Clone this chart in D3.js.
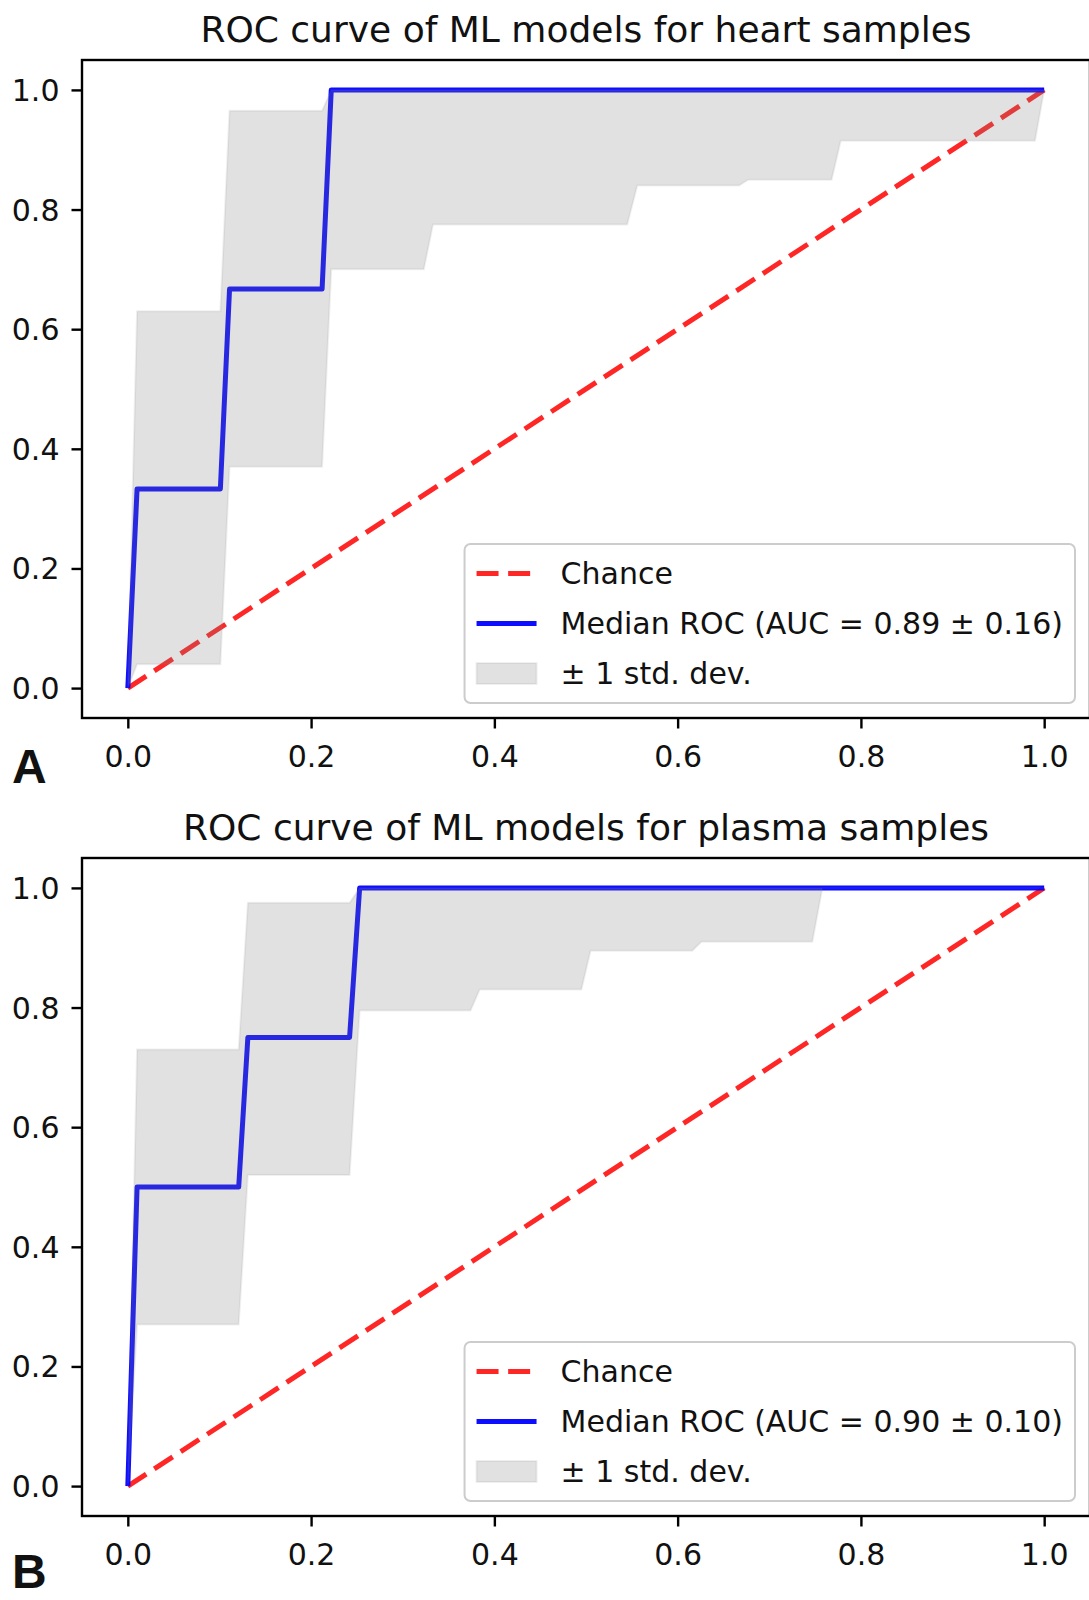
<!DOCTYPE html>
<html>
<head>
<meta charset="utf-8">
<script src="https://cdn.jsdelivr.net/npm/d3@7"></script>
<style>
  body { margin: 0; background: #fff; }
  svg { display: block; }
  text { font-family: "DejaVu Sans", sans-serif; fill: #111; }
</style>
</head>
<body>
<div id="chart"></div>
<script>
// ---- data ----
const xTicks = [0, 0.2, 0.4, 0.6, 0.8, 1.0];
const yTicks = [0, 0.2, 0.4, 0.6, 0.8, 1.0];

// heart samples
const heartRocFpr = [0, 0.0101, 0.101, 0.111, 0.212, 0.222, 1.0];
const heartRocTpr = [0, 0.333, 0.333, 0.667, 0.667, 1.0, 1.0];
const heartBandFpr = [0, 0.0101, 0.101, 0.111, 0.212, 0.222, 0.323, 0.333, 0.545, 0.556, 0.667, 0.677, 0.768, 0.778, 0.99, 1.0];
const heartBandUpper = [0, 0.63, 0.63, 0.965, 0.965, 1, 1, 1, 1, 1, 1, 1, 1, 1, 1, 1];
const heartBandLower = [0, 0.04, 0.04, 0.37, 0.37, 0.70, 0.70, 0.775, 0.775, 0.84, 0.84, 0.85, 0.85, 0.915, 0.915, 1.0];

// plasma samples
const plasmaRocFpr = [0, 0.0101, 0.121, 0.131, 0.242, 0.253, 1.0];
const plasmaRocTpr = [0, 0.5, 0.5, 0.75, 0.75, 1.0, 1.0];
const plasmaBandFpr = [0, 0.0101, 0.121, 0.131, 0.242, 0.253, 0.374, 0.384, 0.495, 0.505, 0.616, 0.626, 0.747, 0.758, 1.0];
const plasmaBandUpper = [0, 0.73, 0.73, 0.975, 0.975, 1, 1, 1, 1, 1, 1, 1, 1, 1, 1];
const plasmaBandLower = [0, 0.27, 0.27, 0.52, 0.52, 0.795, 0.795, 0.83, 0.83, 0.895, 0.895, 0.91, 0.91, 1.0, 1.0];

const panels = [
  {title: "ROC curve of ML models for heart samples", letter: "A",
   rocFpr: heartRocFpr, rocTpr: heartRocTpr, bandFpr: heartBandFpr, bandLo: heartBandLower, bandHi: heartBandUpper,
   auc: "Median ROC (AUC = 0.89 ± 0.16)"},
  {title: "ROC curve of ML models for plasma samples", letter: "B",
   rocFpr: plasmaRocFpr, rocTpr: plasmaRocTpr, bandFpr: plasmaBandFpr, bandLo: plasmaBandLower, bandHi: plasmaBandUpper,
   auc: "Median ROC (AUC = 0.90 ± 0.10)"}
];

//layout
const W = 1089, H = 1600;
const axLeft = 82, axRight = 1090, axH = 658;
const axTops = [60, 858];
const letterY = [783, 1588];

const svg = d3.select("#chart").append("svg")
  .attr("width", W).attr("height", H);

panels.forEach((p, i) => drawPanel(p, axTops[i], letterY[i]));

function drawPanel(p, top, letterBase) {
  const bottom = top + axH;
  const x = d3.scaleLinear().domain([-0.05, 1.05]).range([axLeft, axRight]);
  const y = d3.scaleLinear().domain([-0.05, 1.05]).range([bottom, top]);
  const g = svg.append("g");

  // chance line
  g.append("line")
    .attr("x1", x(0)).attr("y1", y(0))
    .attr("x2", x(1)).attr("y2", y(1))
    .attr("stroke", "#ff0000").attr("stroke-opacity", 0.85)
    .attr("stroke-width", 5).attr("stroke-dasharray", "22,9.6");

  // median roc
  const roc = p.rocFpr.map((f, k) => [f, p.rocTpr[k]]);
  g.append("path")
    .datum(roc)
    .attr("d", d3.line().x(d => x(d[0])).y(d => y(d[1])))
    .attr("fill", "none")
    .attr("stroke", "#0000ff").attr("stroke-opacity", 0.95)
    .attr("stroke-width", 5).attr("stroke-linejoin", "round");

  // std band
  const band = p.bandFpr.map((f, k) => ({f: f, lo: p.bandLo[k], hi: p.bandHi[k]}));
  g.append("path")
    .datum(band)
    .attr("d", d3.area().x(d => x(d.f)).y0(d => y(d.lo)).y1(d => y(d.hi)))
    .attr("fill", "#808080").attr("fill-opacity", 0.24)
    .attr("stroke", "#808080").attr("stroke-opacity", 0.12).attr("stroke-width", 2);

  // axes
  const xAxis = g.append("g").attr("transform", "translate(0," + bottom + ")")
    .call(d3.axisBottom(x).tickValues(xTicks).tickFormat(d3.format(".1f")).tickSize(10.5));
  xAxis.selectAll("text").attr("y", 21).attr("dy", "0.93em");
  const yAxis = g.append("g").attr("transform", "translate(" + axLeft + ",0)")
    .call(d3.axisLeft(y).tickValues(yTicks).tickFormat(d3.format(".1f")).tickSize(10.5).tickPadding(12));
  yAxis.selectAll("text").attr("dy", "0.35em");
  [xAxis, yAxis].forEach(a => {
    a.select(".domain").remove();
    a.selectAll("line").attr("stroke", "#000").attr("stroke-width", 2.4);
    a.selectAll("text").style("font-family", "DejaVu Sans").style("font-size", "30px").attr("fill", "#111");
  });

  // frame
  g.append("rect")
    .attr("x", axLeft).attr("y", top)
    .attr("width", axRight - axLeft).attr("height", axH)
    .attr("fill", "none").attr("stroke", "#000").attr("stroke-width", 2.4);

  // title
  g.append("text")
    .attr("x", (axLeft + axRight) / 2).attr("y", top - 18)
    .attr("text-anchor", "middle")
    .style("font-size", "36px")
    .text(p.title);

  // panel letter
  g.append("text")
    .attr("x", 12).attr("y", letterBase)
    .style("font-family", "Liberation Sans, Arial, sans-serif")
    .style("font-weight", "bold").style("font-size", "48px")
    .attr("fill", "#000")
    .text(p.letter);

  drawLegend(g, p, bottom);
}

function drawLegend(g, p, bottom) {
  const fs = 30, pad = 12, handleLen = 60, textPad = 24, rowH = 35, gap = 15;
  const labels = ["Chance", p.auc, "± 1 std. dev."];
  const lg = g.append("g");
  const box = lg.append("rect");
  const texts = labels.map(l => lg.append("text").style("font-size", fs + "px").text(l));
  const maxW = d3.max(texts, t => t.node().getComputedTextLength());
  const boxW = pad + handleLen + textPad + maxW + pad;
  const boxH = pad * 2 + rowH * 3 + gap * 2;
  const right = axRight - 15, bot = bottom - 15;
  const left = right - boxW, top = bot - boxH;
  box.attr("x", left).attr("y", top).attr("width", boxW).attr("height", boxH)
    .attr("rx", 6).attr("fill", "#fff").attr("fill-opacity", 0.8)
    .attr("stroke", "#cccccc").attr("stroke-width", 2);

  const hx = left + pad;
  texts.forEach((t, i) => {
    const cy = top + pad + rowH / 2 + i * (rowH + gap);
    t.attr("x", hx + handleLen + textPad).attr("y", cy + 10.4);
    if (i == 0) {
      lg.append("line").attr("x1", hx).attr("x2", hx + handleLen).attr("y1", cy).attr("y2", cy)
        .attr("stroke", "#ff0000").attr("stroke-opacity", 0.85).attr("stroke-width", 5)
        .attr("stroke-dasharray", "22,9.6");
    } else if (i == 1) {
      lg.append("line").attr("x1", hx).attr("x2", hx + handleLen).attr("y1", cy).attr("y2", cy)
        .attr("stroke", "#0000ff").attr("stroke-opacity", 0.95).attr("stroke-width", 5);
    } else {
      lg.append("rect").attr("x", hx).attr("y", cy - 10.5).attr("width", handleLen).attr("height", 21)
        .attr("fill", "#808080").attr("fill-opacity", 0.24)
        .attr("stroke", "#808080").attr("stroke-opacity", 0.12).attr("stroke-width", 2);
    }
  });
}
</script>
</body>
</html>
